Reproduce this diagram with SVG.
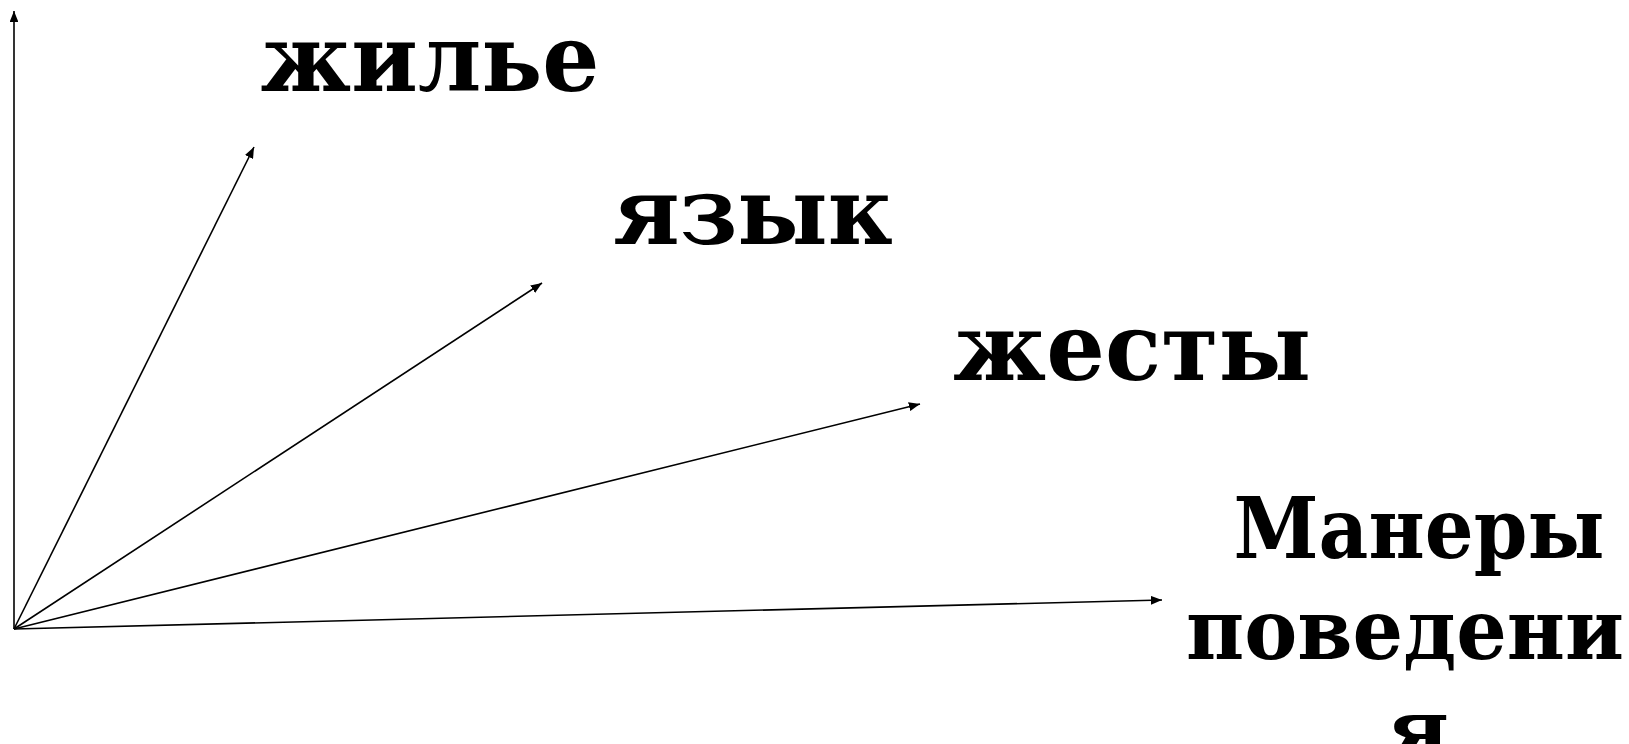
<svg xmlns="http://www.w3.org/2000/svg" width="1629" height="744" viewBox="0 0 1629 744">
<style>
.lbl{font-family:"DejaVu Serif","Liberation Serif",serif;font-weight:bold;font-size:94px;fill:#000;text-anchor:middle}
.sm{font-size:84px}
.ln{stroke:#000;stroke-width:1.6;fill:none;marker-end:url(#ah)}
</style>
<defs>
<marker id="ah" viewBox="0 0 10 8" refX="10" refY="4" markerWidth="7" markerHeight="5.6" orient="auto" markerUnits="strokeWidth">
<path d="M0,0 L10,4 L0,8 Z" fill="#000"/>
</marker>
</defs>
<rect width="1629" height="744" fill="#fff"/>
<g id="connectors">
<line class="ln" x1="14" y1="629" x2="14" y2="11"/>
<line class="ln" x1="14" y1="629" x2="254" y2="147"/>
<line class="ln" x1="14" y1="629" x2="542" y2="283"/>
<line class="ln" x1="14" y1="629" x2="920" y2="404"/>
<line class="ln" x1="14" y1="629" x2="1162" y2="600"/>
</g>
<g id="n1"><text class="lbl" x="430" y="91" textLength="339" lengthAdjust="spacingAndGlyphs">жилье</text></g>
<g id="n2"><text class="lbl" x="753" y="244" textLength="280" lengthAdjust="spacingAndGlyphs">язык</text></g>
<g id="n3"><text class="lbl" x="1132" y="380" textLength="358" lengthAdjust="spacingAndGlyphs">жесты</text></g>
<g id="n4"><text class="lbl sm" x="1419" y="558" textLength="371" lengthAdjust="spacingAndGlyphs">Манеры</text><text class="lbl sm" x="1405" y="659" textLength="438" lengthAdjust="spacingAndGlyphs">поведени</text><text class="lbl sm" x="1418" y="759">я</text></g>
</svg>
